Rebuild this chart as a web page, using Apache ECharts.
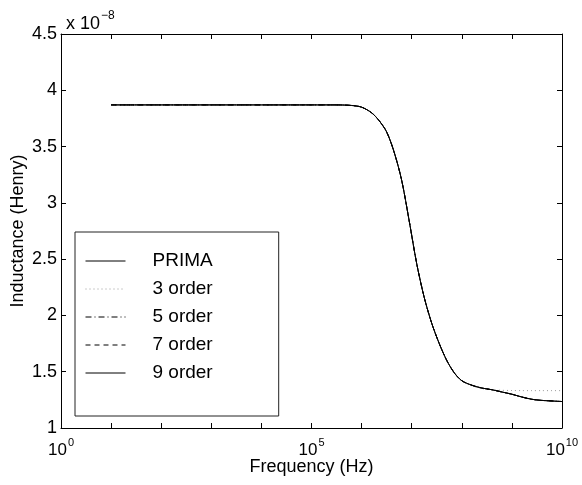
<!DOCTYPE html>
<html>
<head>
<meta charset="utf-8">
<script src="https://cdn.jsdelivr.net/npm/echarts@6/dist/echarts.min.js"></script>
<style>
  html, body { margin: 0; padding: 0; background: #fff; }
  #chart { width: 582px; height: 485px; }
</style>
</head>
<body>
<div id="chart"></div>
<script>
// log10 of frequency (Hz)
const logFreq = [1, 2, 3, 4, 5, 5.5, 5.8, 6.0, 6.2, 6.35, 6.5, 6.65, 6.8, 6.95, 7.1, 7.25, 7.4, 7.55, 7.7, 7.85, 8.0, 8.2, 8.4, 8.6, 8.8, 9.0, 9.2, 9.4, 9.6, 9.8, 10]
// inductance, x 1e-8 Henry
const prima = [3.87, 3.87, 3.87, 3.87, 3.87, 3.87, 3.865, 3.85, 3.8, 3.73, 3.63, 3.45, 3.2, 2.84, 2.46, 2.16, 1.93, 1.75, 1.6, 1.49, 1.42, 1.38, 1.355, 1.34, 1.32, 1.3, 1.275, 1.255, 1.245, 1.24, 1.235]
const order3 = [3.87, 3.87, 3.87, 3.87, 3.87, 3.87, 3.865, 3.85, 3.8, 3.73, 3.63, 3.45, 3.2, 2.84, 2.46, 2.16, 1.93, 1.75, 1.6, 1.49, 1.42, 1.375, 1.35, 1.34, 1.335, 1.333, 1.332, 1.332, 1.332, 1.332, 1.332]
const order5 = prima.slice()
const order7 = prima.slice()
const order9 = prima.slice()
const yTicks = [1, 1.5, 2, 2.5, 3, 3.5, 4, 4.5]
const xLabelPowers = [0, 5, 10]

const pairs = (vals) => logFreq.map((e, i) => [Math.pow(10, e), vals[i]])

const myChart = echarts.init(document.getElementById('chart'))
const font = 'Liberation Sans, Arial, Helvetica, sans-serif'

const lineSeries = (name, vals, style, z) => ({
  name: name,
  type: 'line',
  data: pairs(vals),
  symbol: 'none',
  smooth: 0.3,
  xAxisIndex: 0,
  yAxisIndex: 0,
  z: z,
  lineStyle: Object.assign({ width: 1, color: '#000' }, style),
  itemStyle: { color: style.color || '#000' }
})

const axisCommon = {
  axisLine: { show: true, lineStyle: { color: '#000', width: 1 } },
  axisTick: { show: true, inside: true, length: 5, lineStyle: { color: '#000' } },
  splitLine: { show: false }
}

const options = {
  animation: false,
  backgroundColor: '#fff',
  title: {
    text: '{a|x 10}{b|−8}',
    left: 61,
    top: 1,
    textStyle: {
      fontWeight: 'normal',
      rich: {
        a: { fontSize: 18, fontFamily: font, color: '#000', fontWeight: 'normal', padding: [9, 0, 0, 0] },
        b: { fontSize: 12, fontFamily: font, color: '#000', fontWeight: 'normal', padding: [0, 0, 7, 1] }
      }
    }
  },
  grid: { left: 61, right: 20, top: 34, bottom: 57, containLabel: false, outerBoundsMode: 'none' },
  legend: {
    orient: 'vertical',
    left: 75,
    top: 232,
    itemWidth: 40,
    itemHeight: 15,
    itemGap: 8,
    padding: [19, 66, 33, 10],
    borderColor: '#222',
    borderWidth: 1,
    backgroundColor: '#fff',
    itemStyle: { opacity: 0 },
    lineStyle: { width: 1 },
    textStyle: { fontSize: 19, fontFamily: font, color: '#000', lineHeight: 20, padding: [0, 0, 0, 22] },
    data: ['PRIMA', '3 order', '5 order', '7 order', '9 order']
  },
  xAxis: [
    Object.assign({}, axisCommon, {
      type: 'log',
      logBase: 10,
      min: 1,
      max: 1e10,
      interval: 1,
      position: 'bottom',
      name: 'Frequency (Hz)',
      nameLocation: 'middle',
      nameGap: 30,
      nameMoveOverlap: false,
      nameTextStyle: { fontSize: 18, fontFamily: font, color: '#000' },
      axisLabel: {
        margin: 8,
        fontFamily: font,
        color: '#000',
        showMinLabel: true,
        showMaxLabel: true,
        formatter: function (v) {
          const p = Math.round(Math.log10(v))
          return xLabelPowers.indexOf(p) >= 0 ? '{a|10}{b|' + p + '}' : ''
        },
        rich: {
          a: { fontSize: 17, fontFamily: font, color: '#000', padding: [6, 0, 0, 0] },
          b: { fontSize: 11, fontFamily: font, color: '#000', padding: [0, 0, 9, 1] }
        }
      }
    }),
    Object.assign({}, axisCommon, {
      type: 'log',
      logBase: 10,
      min: 1,
      max: 1e10,
      interval: 1,
      position: 'top',
      axisLabel: { show: false }
    })
  ],
  yAxis: [
    Object.assign({}, axisCommon, {
      type: 'value',
      min: yTicks[0],
      max: yTicks[yTicks.length - 1],
      interval: 0.5,
      position: 'left',
      name: 'Inductance (Henry)',
      nameLocation: 'middle',
      nameGap: 34,
      nameMoveOverlap: false,
      nameTextStyle: { fontSize: 18, fontFamily: font, color: '#000' },
      axisLabel: { fontSize: 18, fontFamily: font, color: '#000', margin: 4 }
    }),
    Object.assign({}, axisCommon, {
      type: 'value',
      min: yTicks[0],
      max: yTicks[yTicks.length - 1],
      interval: 0.5,
      position: 'right',
      axisLabel: { show: false }
    })
  ],
  series: [
    lineSeries('3 order', order3, { type: [1, 3], color: '#999' }, 2),
    lineSeries('5 order', order5, { type: [6, 3, 1, 3] }, 3),
    lineSeries('7 order', order7, { type: [5, 4] }, 4),
    lineSeries('9 order', order9, { type: 'solid' }, 5),
    lineSeries('PRIMA', prima, { type: 'solid' }, 6)
  ]
}
myChart.setOption(options)
</script>
</body>
</html>
